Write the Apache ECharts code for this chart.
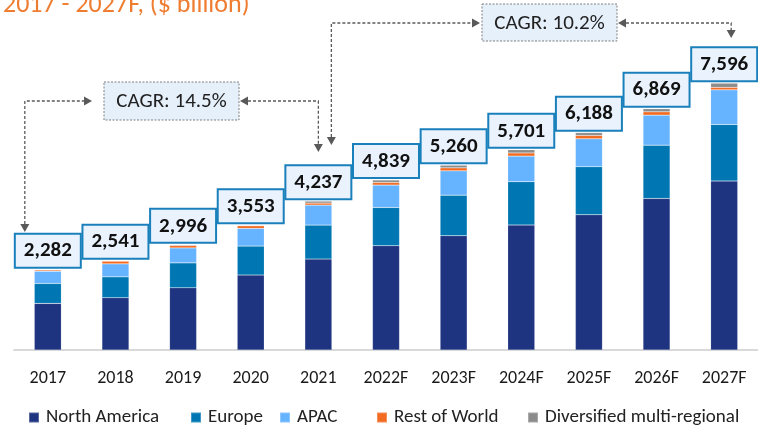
<!DOCTYPE html>
<html>
<head>
<meta charset="utf-8">
<script src="https://cdn.jsdelivr.net/npm/echarts@6/dist/echarts.min.js"></script>
<style>
  html, body { margin: 0; padding: 0; background: #fff; }
  #chart { width: 758px; height: 428px; }
</style>
</head>
<body>
<div id="chart"></div>
<script>
// values in $ billion
const categories = ['2017', '2018', '2019', '2020', '2021', '2022F', '2023F', '2024F', '2025F', '2026F', '2027F'];
const northAmerica = [1327, 1486, 1770, 2134, 2589, 2968, 3252, 3557, 3850, 4315, 4810];
const europe = [568, 597, 710, 825, 967, 1091, 1157, 1233, 1366, 1517, 1611];
const apac = [347, 369, 426, 503, 569, 636, 692, 730, 797, 854, 986];
const restOfWorld = [35, 77, 68, 74, 57, 76, 85, 90, 95, 95, 70];
const diversified = [5, 12, 22, 17, 55, 68, 74, 91, 80, 88, 119];
const totals = [2282, 2541, 2996, 3553, 4237, 4839, 5260, 5701, 6188, 6869, 7596];

const FONT = 'Carlito, Lato, sans-serif';
const colors = ['#1f3480', '#0077b3', '#66b3ff', '#f26b21', '#8c8c8c'];
const names = ['North America', 'Europe', 'APAC', 'Rest of World', 'Diversified multi-regional'];
const legendLeft = [23, 185, 274, 371, 522];

const chart = echarts.init(document.getElementById('chart'));

const seriesData = [northAmerica, europe, apac, restOfWorld, diversified];
const series = seriesData.map((d, i) => {
  const s = {
    name: names[i],
    type: 'bar',
    stack: 'total',
    barWidth: 27,
    data: d,
    itemStyle: { color: colors[i], borderColor: 'rgba(255,255,255,0.25)', borderWidth: 0.5 }
  };
  if (i === seriesData.length - 1) {
    s.label = {
      show: true,
      position: 'top',
      distance: 3,
      formatter: p => totals[p.dataIndex].toLocaleString('en-US'),
      fontFamily: FONT,
      fontSize: 21,
      lineHeight: 23,
      fontWeight: 'bold',
      color: '#111',
      backgroundColor: '#eaf3fd',
      borderColor: '#1a80bb',
      borderWidth: 2,
      padding: [5, 8, 4, 8]
    };
  }
  return s;
});

const legends = names.map((n, i) => ({
  data: [n],
  left: legendLeft[i],
  top: 403,
  itemWidth: 10,
  itemHeight: 10,
  itemGap: 0,
  icon: 'rect',
  textStyle: { fontFamily: FONT, fontSize: 19, color: '#222', padding: [0, 0, 0, 2] }
}));

chart.setOption({
  animation: false,
  title: {
    text: '2017 - 2027F, ($ billion)',
    left: -2,
    top: -13,
    textStyle: { fontFamily: FONT, fontSize: 26, fontWeight: 'normal', color: '#ef7d31' }
  },
  legend: legends,
  grid: { left: 14, right: -1, top: 69, bottom: 78 },
  xAxis: {
    type: 'category',
    data: categories,
    axisLine: { lineStyle: { color: '#d9d9d9', width: 2 } },
    axisTick: { show: false },
    axisLabel: { fontFamily: FONT, fontSize: 18, color: '#1a1a1a', margin: 19 }
  },
  yAxis: { type: 'value', min: 0, max: 8000, show: false, splitLine: { show: false } },
  series: series
});

// CAGR annotations
const xs = categories.map(c => chart.convertToPixel({ xAxisIndex: 0 }, c));
const lineColor = '#595959';

function arrowHead(x, y, dir) {
  const L = 8, W = 4.5;
  let pts;
  if (dir === 'down') pts = [[x, y], [x - W, y - L], [x + W, y - L]];
  else if (dir === 'right') pts = [[x, y], [x - L, y - W], [x - L, y + W]];
  else pts = [[x, y], [x + L, y - W], [x + L, y + W]];
  return { type: 'polygon', shape: { points: pts }, style: { fill: lineColor }, z: 10 };
}
function dashed(points) {
  return { type: 'polyline', shape: { points: points },
    style: { stroke: lineColor, lineWidth: 1.3, lineDash: [3, 2], fill: null }, z: 10 };
}
function cagrBox(x, y, w, h, text) {
  return [
    { type: 'rect', shape: { x: x, y: y, width: w, height: h },
      style: { fill: '#e6f0fb', stroke: '#7f7f7f', lineWidth: 1, lineDash: [2, 1.5] }, z: 10 },
    { type: 'text', z: 11,
      style: { text: text, x: x + w / 2, y: y + h / 2 + 1, fill: '#222', fontSize: 21, fontFamily: FONT,
        align: 'center', verticalAlign: 'middle' } }
  ];
}

const a1L = xs[0] - 23, a1R = xs[4], a2L = xs[4] + 13, a2R = xs[10] + 7;
const y1 = 101, y2 = 23;
const graphics = [
  dashed([[a1L, 224], [a1L, y1], [84, y1]]),
  arrowHead(a1L, 232, 'down'),
  arrowHead(92, y1, 'right'),
  ...cagrBox(104, 82, 135, 38, 'CAGR: 14.5%'),
  dashed([[248, y1], [a1R, y1], [a1R, 144]]),
  arrowHead(240, y1, 'left'),
  arrowHead(a1R, 152, 'down'),
  dashed([[a2L, 137], [a2L, y2], [472, y2]]),
  arrowHead(a2L, 145, 'down'),
  arrowHead(480, y2, 'right'),
  ...cagrBox(482, 4, 135, 37, 'CAGR: 10.2%'),
  dashed([[626, y2], [a2R, y2], [a2R, 30]]),
  arrowHead(618, y2, 'left'),
  arrowHead(a2R, 38, 'down')
];
chart.setOption({ graphic: graphics });
</script>
</body>
</html>
